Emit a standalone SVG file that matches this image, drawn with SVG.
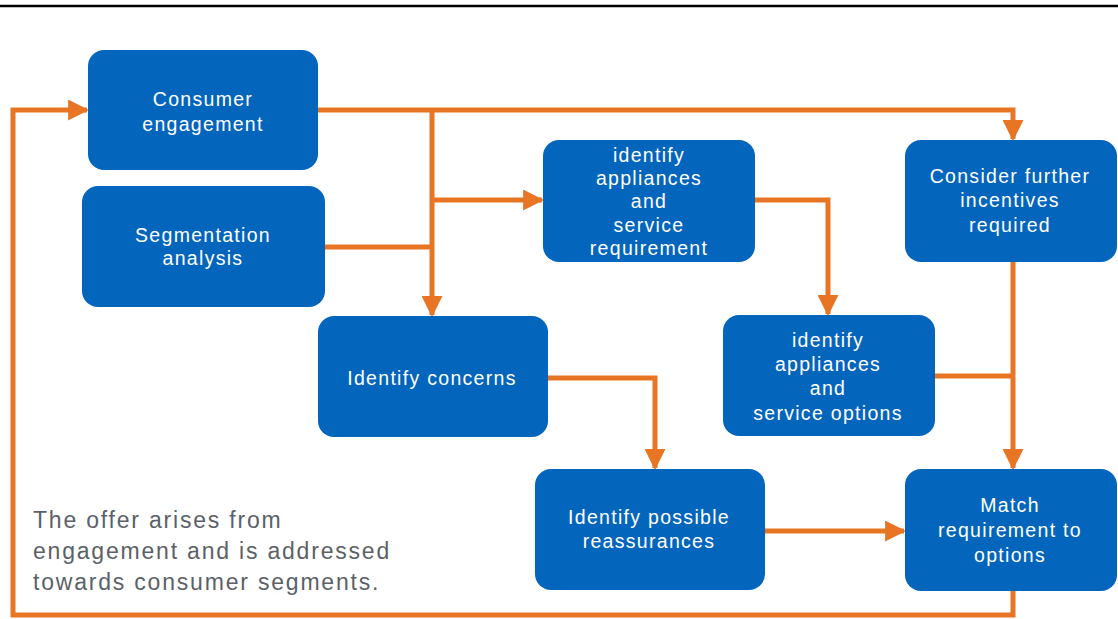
<svg xmlns="http://www.w3.org/2000/svg" width="1118" height="619" viewBox="0 0 1118 619">
<style>
.box{fill:#0465bd}
.lbl{font-family:"Liberation Sans",Arial,sans-serif;font-size:19.5px;letter-spacing:1.3px;fill:#ffffff;text-anchor:middle}
.ln{fill:none;stroke:#e87524;stroke-width:5}
.note{font-family:"Liberation Sans",Arial,sans-serif;font-size:23px;letter-spacing:1.8px;fill:#5b6168}
</style>
<defs>
<marker id="ah" viewBox="0 0 10 10" refX="9" refY="5" markerWidth="4.2" markerHeight="4.2" orient="auto" markerUnits="strokeWidth">
<path d="M0,0 L10,5 L0,10 z" fill="#e87524"/>
</marker>
</defs>
<rect width="1118" height="619" fill="#ffffff"/>
<line x1="0" y1="6" x2="1118" y2="6" stroke="#000" stroke-width="2.5"/>
<g id="connectors">
<path class="ln" d="M1013,591 V615 H13 V110 H87" marker-end="url(#ah)"/>
<path class="ln" d="M318,110 H1013 V139" marker-end="url(#ah)"/>
<path class="ln" d="M432,110 V315" marker-end="url(#ah)"/>
<path class="ln" d="M432,200 H542" marker-end="url(#ah)"/>
<path class="ln" d="M325,247 H432"/>
<path class="ln" d="M755,200 H828 V314" marker-end="url(#ah)"/>
<path class="ln" d="M1013,262 V468" marker-end="url(#ah)"/>
<path class="ln" d="M935,376 H1013"/>
<path class="ln" d="M548,378 H655 V468" marker-end="url(#ah)"/>
<path class="ln" d="M765,531 H904" marker-end="url(#ah)"/>
</g>
<g id="consumer">
<rect class="box" x="88" y="50" width="230" height="120" rx="16"/>
<text class="lbl" x="203" y="106">Consumer</text>
<text class="lbl" x="203" y="131">engagement</text>
</g>
<g id="segmentation">
<rect class="box" x="82" y="186" width="243" height="121" rx="16"/>
<text class="lbl" x="203" y="242">Segmentation</text>
<text class="lbl" x="203" y="265">analysis</text>
</g>
<g id="req">
<rect class="box" x="543" y="140" width="212" height="122" rx="16"/>
<text class="lbl" x="649" y="162">identify</text>
<text class="lbl" x="649" y="185">appliances</text>
<text class="lbl" x="649" y="208">and</text>
<text class="lbl" x="649" y="232">service</text>
<text class="lbl" x="649" y="255">requirement</text>
</g>
<g id="incentives">
<rect class="box" x="905" y="140" width="212" height="122" rx="16"/>
<text class="lbl" x="1010" y="183">Consider further</text>
<text class="lbl" x="1010" y="207">incentives</text>
<text class="lbl" x="1010" y="232">required</text>
</g>
<g id="concerns">
<rect class="box" x="318" y="316" width="230" height="121" rx="16"/>
<text class="lbl" x="432" y="385">Identify concerns</text>
</g>
<g id="options">
<rect class="box" x="723" y="315" width="212" height="121" rx="16"/>
<text class="lbl" x="828" y="347">identify</text>
<text class="lbl" x="828" y="371">appliances</text>
<text class="lbl" x="828" y="395">and</text>
<text class="lbl" x="828" y="420">service options</text>
</g>
<g id="reassurances">
<rect class="box" x="535" y="469" width="230" height="121" rx="16"/>
<text class="lbl" x="649" y="524">Identify possible</text>
<text class="lbl" x="649" y="548">reassurances</text>
</g>
<g id="match">
<rect class="box" x="905" y="469" width="212" height="122" rx="16"/>
<text class="lbl" x="1010" y="512">Match</text>
<text class="lbl" x="1010" y="537">requirement to</text>
<text class="lbl" x="1010" y="562">options</text>
</g>
<g id="note">
<text class="note" x="33" y="528">The offer arises from</text>
<text class="note" x="33" y="559">engagement and is addressed</text>
<text class="note" x="33" y="590">towards consumer segments.</text>
</g>
</svg>
